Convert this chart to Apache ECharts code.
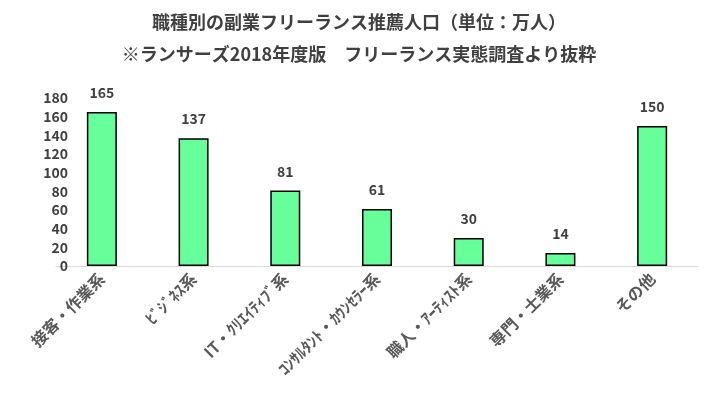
<!DOCTYPE html><html><head><meta charset="utf-8"><script src="https://cdn.jsdelivr.net/npm/echarts@6/dist/echarts.min.js"></script>
<style>html,body{margin:0;background:#fff}#c{width:718px;height:403px}</style></head><body><div id="c"></div><script>
const categories=["接客・作業系","ﾋﾞｼﾞﾈｽ系","IT・ｸﾘｴｲﾃｨﾌﾞ系","ｺﾝｻﾙﾀﾝﾄ・ｶｳﾝｾﾗｰ系","職人・ｱｰﾃｨｽﾄ系","専門・士業系","その他"];
const values=[165,137,81,61,30,14,150];
const F='"Noto Sans CJK JP", sans-serif';
const chart=echarts.init(document.getElementById('c'));
chart.setOption({
 animation:false,
 title:[{text:'職種別の副業フリーランス推薦人口（単位：万人）',left:'center',top:8,textStyle:{fontFamily:F,fontSize:18,fontWeight:'bold',color:'#404040'}},
 {text:'※ランサーズ2018年度版　フリーランス実態調査より抜粋',left:'center',top:40,textStyle:{fontFamily:F,fontSize:18,fontWeight:'bold',color:'#404040'}}],
 grid:{left:56,right:20,top:98,bottom:137},
 xAxis:{type:'category',data:categories,axisTick:{show:false},axisLine:{lineStyle:{color:'#d9d9d9'}},
  axisLabel:{rotate:45,interval:0,fontFamily:F,fontSize:16,fontWeight:'bold',color:'#595959',margin:10}},
 yAxis:{type:'value',min:0,max:180,interval:20,splitLine:{show:false},
  axisLabel:{margin:-12,fontFamily:F,fontSize:14,fontWeight:'bold',color:'#404040'}},
 series:[{type:'bar',data:values,barWidth:30,itemStyle:{color:'#66FF99',borderColor:'#000',borderWidth:1.5},
  label:{show:true,position:'top',distance:12,fontFamily:F,fontSize:14,fontWeight:'bold',color:'#404040'}}]
});
</script></body></html>
